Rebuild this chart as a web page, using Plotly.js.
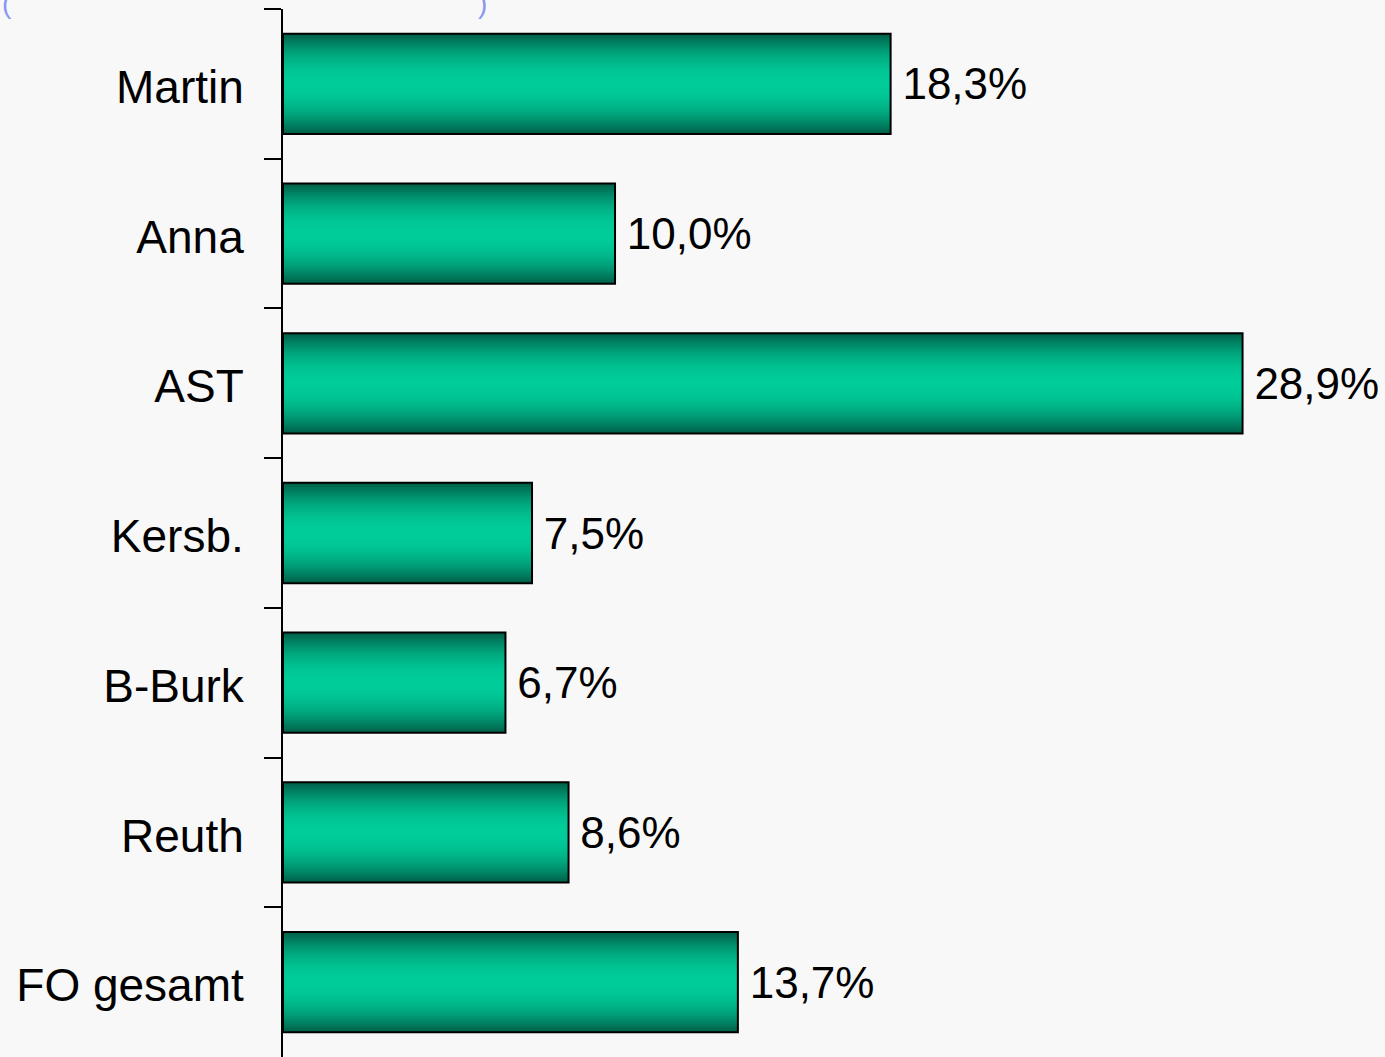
<!DOCTYPE html>
<html>
<head>
<meta charset="utf-8">
<script src="https://cdn.plot.ly/plotly-3.0.1.min.js"></script>
<style>html,body{margin:0;padding:0;background:#f8f8f8;}#chart{width:1385px;height:1057px;}</style>
</head>
<body>
<div id="chart"></div>
<script>
const categories = ["Martin", "Anna", "AST", "Kersb.", "B-Burk", "Reuth", "FO gesamt"];
const values = [18.3, 10.0, 28.9, 7.5, 6.7, 8.6, 13.7];

const BAR_W = 0.67;
const N = 24;
const dark = [0, 92, 70];
const bright = [0, 204, 153];
const traces = [];
for (let i = 0; i < N; i++) {
  const d = 1 - (i + 0.5) / N;
  const t = Math.pow(d, 2);
  const c = dark.map((v, k) => Math.round(bright[k] + (v - bright[k]) * t));
  traces.push({
    type: 'bar', orientation: 'h',
    y: categories, x: values,
    width: categories.map(() => BAR_W * (1 - i / N)),
    marker: {color: 'rgb(' + c.join(',') + ')', line: {width: 0}},
    hoverinfo: 'skip', showlegend: false
  });
}
traces.push({
  type: 'bar', orientation: 'h',
  y: categories, x: values,
  width: categories.map(() => BAR_W),
  marker: {color: 'rgba(0,0,0,0)', line: {color: '#000', width: 2}},
  texttemplate: '\u2009%{x:.1f}%',
  textposition: 'outside',
  cliponaxis: false,
  textfont: {family: 'Liberation Sans, Arial, sans-serif', size: 44, color: '#000'},
  hoverinfo: 'skip', showlegend: false
});

const layout = {
  width: 1385, height: 1057,
  margin: {l: 283, r: 0, t: 9, b: 0},
  paper_bgcolor: '#f8f8f8', plot_bgcolor: '#f8f8f8',
  barmode: 'overlay',
  separators: ',.',
  font: {family: 'Liberation Sans, Arial, sans-serif', size: 44, color: '#000'},
  xaxis: {range: [0, 33.19], showgrid: false, zeroline: false, showticklabels: false, ticks: '', showline: false},
  yaxis: {
    type: 'category', autorange: 'reversed',
    showline: true, linecolor: '#000', linewidth: 2,
    ticks: 'outside', ticklen: 17, tickwidth: 2, tickcolor: '#000',
    tickson: 'boundaries', showgrid: false, zeroline: false,
    ticklabelstandoff: 28,
    ticklabelshift: -3,
    tickfont: {family: 'Liberation Sans, Arial, sans-serif', size: 46, color: '#000'}
  },
  annotations: [
    {text: '(', xref: 'paper', yref: 'paper', x: -0.257, y: 1.0, xanchor: 'left', yanchor: 'bottom', yshift: -12, showarrow: false, font: {size: 28, color: '#8c96f0'}},
    {text: ')', xref: 'paper', yref: 'paper', x: 0.175, y: 1.0, xanchor: 'left', yanchor: 'bottom', yshift: -12, showarrow: false, font: {size: 28, color: '#8c96f0'}}
  ]
};

Plotly.newPlot('chart', traces, layout, {displayModeBar: false, staticPlot: true});
</script>
</body>
</html>
